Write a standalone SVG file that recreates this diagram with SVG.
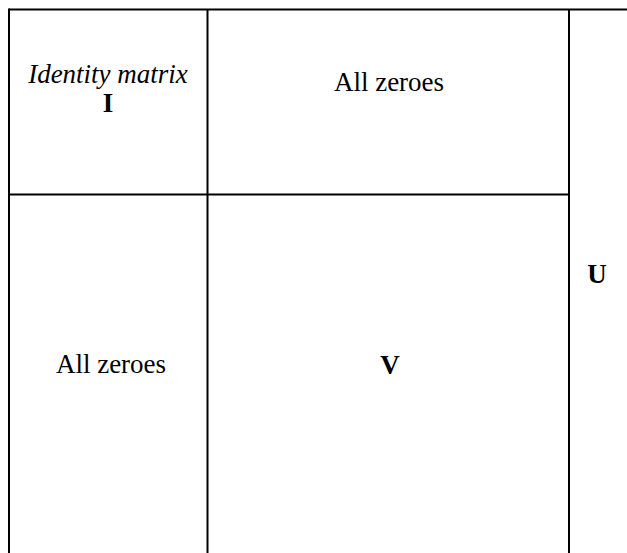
<svg xmlns="http://www.w3.org/2000/svg" width="627" height="553" viewBox="0 0 627 553">
<style>
.ln{stroke:#000;stroke-width:2;fill:none}
.t{font-family:"Liberation Serif","Times New Roman",serif;font-size:27px;fill:#000;text-anchor:middle}
.b{font-weight:bold}
.i{font-style:italic}
</style>
<rect width="627" height="553" fill="#fff"/>
<g id="grid">
<line class="ln" x1="9" y1="9.5" x2="627" y2="9.5"/>
<line class="ln" x1="9" y1="8.5" x2="9" y2="553"/>
<line class="ln" x1="207.5" y1="9.5" x2="207.5" y2="553"/>
<line class="ln" x1="569" y1="9.5" x2="569" y2="553"/>
<line class="ln" x1="9" y1="194.5" x2="569" y2="194.5"/>
</g>
<g id="identity">
<text class="t i" x="108" y="83">Identity matrix</text>
<text class="t b" x="108" y="112">I</text>
</g>
<g id="zeroes-top"><text class="t" x="389" y="91">All zeroes</text></g>
<g id="zeroes-left"><text class="t" x="111" y="373">All zeroes</text></g>
<g id="V"><text class="t b" x="390" y="374">V</text></g>
<g id="U"><text class="t b" x="597" y="283">U</text></g>
</svg>
